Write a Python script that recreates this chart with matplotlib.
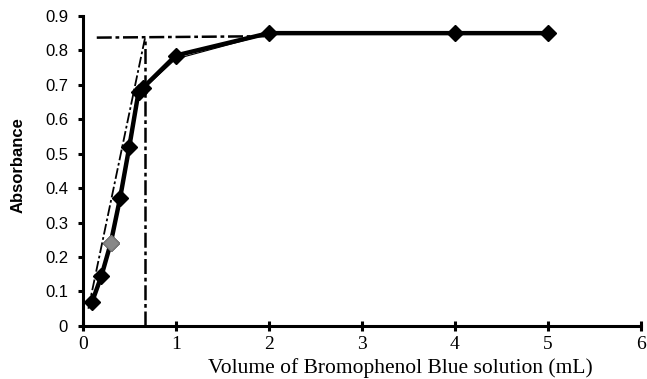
import matplotlib
matplotlib.use("Agg")
import matplotlib.pyplot as plt

# data
volume = [0.1, 0.2, 0.3, 0.4, 0.5, 0.6, 0.65, 1, 2, 4, 5]
absorbance = [0.07, 0.145, 0.24, 0.37, 0.52, 0.68, 0.692, 0.785, 0.85, 0.85, 0.85]
# thin companion trace
volume_thin = [0.1, 0.2, 0.3, 0.4, 0.5, 0.6, 1, 2]
absorbance_thin = [0.065, 0.14, 0.235, 0.365, 0.515, 0.675, 0.775, 0.848]

# tangent construction lines
slope_x = [0.06, 0.67]
slope_y = [0.05, 0.837]
plateau_x = [0.15, 1.95]
plateau_y = [0.837, 0.841]
end_x = [0.67, 0.67]
end_y = [0.0, 0.837]

xticks = [0, 1, 2, 3, 4, 5, 6]
yticks = [0, 0.1, 0.2, 0.3, 0.4, 0.5, 0.6, 0.7, 0.8, 0.9]

fig = plt.figure(figsize=(6.47, 3.79), dpi=100)
ax = fig.add_axes([0.128, 0.14, 0.862, 0.818])

dashdot = (0, (6, 1.5, 1.5, 1.5))
ax.plot(slope_x, slope_y, color='black', lw=1.3, ls=dashdot)
ax.plot(plateau_x, plateau_y, color='black', lw=1.8, ls=dashdot)
ax.plot(end_x, end_y, color='black', lw=1.8, ls=dashdot)

ax.plot(volume_thin, absorbance_thin, color='black', lw=0.8)
ax.plot(volume, absorbance, color='black', lw=3.2, marker='D',
        markersize=8, markerfacecolor='black', markeredgecolor='black')
# the 0.3 mL point is drawn grey in the original
ax.plot(volume[2], absorbance[2], marker='D', markersize=8,
        color='#888888', markeredgecolor='#777777')

ax.set_xlim(0, 6)
ax.set_ylim(0, 0.9)
ax.set_xticks(xticks)
ax.set_yticks(yticks)
ax.set_yticklabels(['0' if v == 0 else f'{v:.1f}' for v in yticks],
                   family='Liberation Sans', fontsize=12)
ax.set_xticklabels([str(v) for v in xticks], family='Liberation Serif', fontsize=14)

for side in ['top', 'right']:
    ax.spines[side].set_visible(False)
for side in ['left', 'bottom']:
    ax.spines[side].set_linewidth(2.2)

ax.tick_params(axis='y', direction='out', length=3.6, width=2.2, pad=7)
ax.tick_params(axis='x', direction='inout', length=7, width=2.2, pad=4)

ax.set_ylabel('Absorbance', family='Liberation Sans', fontweight='bold',
              fontsize=12)
ax.yaxis.set_label_coords(-0.103, 0.519)
ax.set_xlabel('Volume of Bromophenol Blue solution (mL)', family='Liberation Serif',
              fontsize=15.5)
ax.xaxis.set_label_coords(0.570, -0.104)

fig.savefig('out.png', dpi=100)
